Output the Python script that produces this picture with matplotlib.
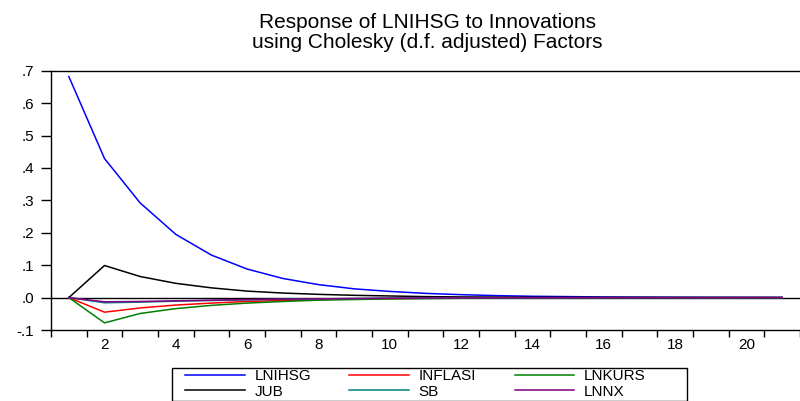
import matplotlib
matplotlib.use("Agg")
import matplotlib.pyplot as plt
import numpy as np
from matplotlib.ticker import FuncFormatter
from matplotlib.patches import Rectangle

plt.rcParams['font.family'] = ['Liberation Sans', 'DejaVu Sans']

# Periode respons (1..21)
periods = np.arange(1, 22)

# Nilai respons
lnihsg = [0.682, 0.429, 0.292, 0.195, 0.131, 0.088, 0.059, 0.040, 0.027, 0.019,
          0.013, 0.009, 0.006, 0.004, 0.003, 0.002, 0.0015, 0.001, 0.0007, 0.0005, 0.0003]
inflasi = [0.0, -0.045, -0.032, -0.023, -0.017, -0.012, -0.009, -0.006, -0.004, -0.003,
           -0.002, -0.0015, -0.001, -0.0007, -0.0005, -0.0003, -0.0002, -0.0001, -0.0001, 0.0, 0.0]
lnkurs = [0.0, -0.078, -0.049, -0.034, -0.024, -0.017, -0.012, -0.008, -0.006, -0.004,
          -0.003, -0.002, -0.0014, -0.001, -0.0007, -0.0005, -0.0003, -0.0002, -0.0001, -0.0001, 0.0]
jub = [0.0, 0.099, 0.065, 0.044, 0.030, 0.020, 0.014, 0.010, 0.007, 0.005,
       0.003, 0.002, 0.0015, 0.001, 0.0007, 0.0005, 0.0003, 0.0002, 0.0001, 0.0001, 0.0]
sb = [0.0, -0.016, -0.014, -0.011, -0.009, -0.007, -0.005, -0.004, -0.003, -0.002,
      -0.0015, -0.001, -0.0008, -0.0006, -0.0004, -0.0003, -0.0002, -0.0001, -0.0001, 0.0, 0.0]
lnnx = [0.0, -0.013, -0.012, -0.010, -0.008, -0.006, -0.005, -0.004, -0.003, -0.002,
        -0.0015, -0.001, -0.0008, -0.0006, -0.0004, -0.0003, -0.0002, -0.0001, -0.0001, 0.0, 0.0]

series = [
    ("LNIHSG", lnihsg, "#0000ff"),
    ("INFLASI", inflasi, "#ff0000"),
    ("LNKURS", lnkurs, "#008000"),
    ("JUB", jub, "#000000"),
    ("SB", sb, "#008080"),
    ("LNNX", lnnx, "#800080"),
]

W, H = 800, 401
fig = plt.figure(figsize=(W / 100, H / 100), dpi=100)
ax = fig.add_axes([51 / W, 1 - 330 / H, 749 / W, (330 - 70.7) / H])

ax.axhline(0, color="black", lw=1.0, zorder=1)
for name, vals, col in series:
    ax.plot(periods, vals, color=col, lw=1.1, label=name, zorder=2)

ax.set_xlim(0.5, 21.5)
ax.set_ylim(-0.1, 0.7)

# Label di angka genap, tick di batas setengah periode (gaya EViews)
ax.set_xticks(np.arange(2, 21, 2))
ax.set_xticks(np.arange(0.5, 21.6, 1.0), minor=True)
ax.tick_params(axis="x", which="major", length=0, labelsize=11, pad=6)
ax.tick_params(axis="x", which="minor", length=5, direction="out", width=1)
ax.set_yticks(np.arange(-0.1, 0.71, 0.1))
ax.yaxis.set_major_formatter(FuncFormatter(lambda v, p: f"{v:.1f}".replace("0.", ".")))
ax.tick_params(axis="y", length=7, direction="out", labelsize=11, width=1, pad=5)

for sp in ax.spines.values():
    sp.set_linewidth(1.0)
ax.spines["right"].set_visible(False)

fig.text(0.534, 1 - 22 / H, "Response of LNIHSG to Innovations", ha="center", va="center", fontsize=15)
fig.text(0.534, 1 - 42 / H, "using Cholesky (d.f. adjusted) Factors", ha="center", va="center", fontsize=15)

# Legenda 3 kolom di bawah, bingkai digambar terpisah
handles, labels = ax.get_legend_handles_labels()
order = [0, 3, 1, 4, 2, 5]
leg = fig.legend([handles[i] for i in order], [labels[i] for i in order],
                 ncol=3, loc="upper left", bbox_to_anchor=(185 / W, 1 - 369 / H),
                 fontsize=11, frameon=False, handlelength=3.9,
                 handletextpad=0.65, columnspacing=2.5, labelspacing=0.12,
                 borderpad=0, borderaxespad=0)
fig.patches.append(Rectangle((172 / W, 0), (687 - 172) / W, 1 - 368 / H,
                             transform=fig.transFigure, fill=False,
                             edgecolor="black", lw=1.0))

fig.savefig("out.png", dpi=100)
